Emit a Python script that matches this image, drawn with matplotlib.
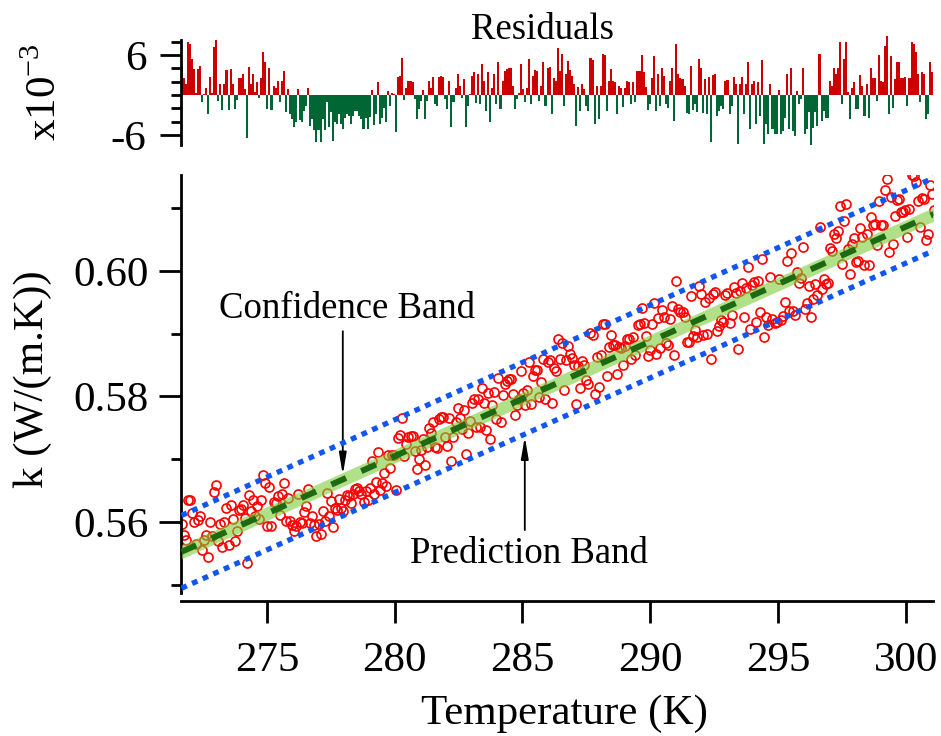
import numpy as np
import matplotlib.pyplot as plt

plt.rcParams['font.family'] = ['Liberation Serif', 'DejaVu Serif']
plt.rcParams['mathtext.fontset'] = 'custom'
plt.rcParams['mathtext.rm'] = 'Liberation Serif'

# measured temperatures (K)
temperature = [
    271.66, 271.74, 271.82, 271.90, 271.98, 272.06, 272.14, 272.22, 272.30, 272.38,
    272.46, 272.54, 272.62, 272.70, 272.78, 272.86, 272.94, 273.02, 273.10, 273.18,
    273.26, 273.34, 273.42, 273.50, 273.58, 273.66, 273.74, 273.82, 273.90, 273.98,
    274.06, 274.14, 274.22, 274.30, 274.38, 274.46, 274.54, 274.62, 274.70, 274.78,
    274.86, 274.94, 275.02, 275.10, 275.18, 275.26, 275.34, 275.42, 275.50, 275.58,
    275.66, 275.74, 275.82, 275.90, 275.98, 276.06, 276.14, 276.22, 276.30, 276.38,
    276.46, 276.54, 276.62, 276.70, 276.78, 276.86, 276.94, 277.02, 277.10, 277.18,
    277.26, 277.34, 277.42, 277.50, 277.58, 277.66, 277.74, 277.82, 277.90, 277.98,
    278.06, 278.14, 278.22, 278.30, 278.38, 278.46, 278.54, 278.62, 278.70, 278.78,
    278.86, 278.94, 279.02, 279.10, 279.18, 279.26, 279.34, 279.42, 279.50, 279.58,
    279.66, 279.74, 279.82, 279.90, 279.98, 280.06, 280.14, 280.22, 280.30, 280.38,
    280.46, 280.54, 280.62, 280.70, 280.78, 280.86, 280.94, 281.02, 281.10, 281.18,
    281.26, 281.34, 281.42, 281.50, 281.58, 281.66, 281.74, 281.82, 281.90, 281.98,
    282.06, 282.14, 282.22, 282.30, 282.38, 282.46, 282.54, 282.62, 282.70, 282.78,
    282.86, 282.94, 283.02, 283.10, 283.18, 283.26, 283.34, 283.42, 283.50, 283.58,
    283.66, 283.74, 283.82, 283.90, 283.98, 284.06, 284.14, 284.22, 284.30, 284.38,
    284.46, 284.54, 284.62, 284.70, 284.78, 284.86, 284.94, 285.02, 285.10, 285.18,
    285.26, 285.34, 285.42, 285.50, 285.58, 285.66, 285.74, 285.82, 285.90, 285.98,
    286.06, 286.14, 286.22, 286.30, 286.38, 286.46, 286.54, 286.62, 286.70, 286.78,
    286.86, 286.94, 287.02, 287.10, 287.18, 287.26, 287.34, 287.42, 287.50, 287.58,
    287.66, 287.74, 287.82, 287.90, 287.98, 288.06, 288.14, 288.22, 288.30, 288.38,
    288.46, 288.54, 288.62, 288.70, 288.78, 288.86, 288.94, 289.02, 289.10, 289.18,
    289.26, 289.34, 289.42, 289.50, 289.58, 289.66, 289.74, 289.82, 289.90, 289.98,
    290.06, 290.14, 290.22, 290.30, 290.38, 290.46, 290.54, 290.62, 290.70, 290.78,
    290.86, 290.94, 291.02, 291.10, 291.18, 291.26, 291.34, 291.42, 291.50, 291.58,
    291.66, 291.74, 291.82, 291.90, 291.98, 292.06, 292.14, 292.22, 292.30, 292.38,
    292.46, 292.54, 292.62, 292.70, 292.78, 292.86, 292.94, 293.02, 293.10, 293.18,
    293.26, 293.34, 293.42, 293.50, 293.58, 293.66, 293.74, 293.82, 293.90, 293.98,
    294.06, 294.14, 294.22, 294.30, 294.38, 294.46, 294.54, 294.62, 294.70, 294.78,
    294.86, 294.94, 295.02, 295.10, 295.18, 295.26, 295.34, 295.42, 295.50, 295.58,
    295.66, 295.74, 295.82, 295.90, 295.98, 296.06, 296.14, 296.22, 296.30, 296.38,
    296.46, 296.54, 296.62, 296.70, 296.78, 296.86, 296.94, 297.02, 297.10, 297.18,
    297.26, 297.34, 297.42, 297.50, 297.58, 297.66, 297.74, 297.82, 297.90, 297.98,
    298.06, 298.14, 298.22, 298.30, 298.38, 298.46, 298.54, 298.62, 298.70, 298.78,
    298.86, 298.94, 299.02, 299.10, 299.18, 299.26, 299.34, 299.42, 299.50, 299.58,
    299.66, 299.74, 299.82, 299.90, 299.98, 300.06, 300.14, 300.22, 300.30, 300.38,
    300.46, 300.54, 300.62, 300.70, 300.78, 300.86, 300.94, 301.02, 301.10,
]

# residuals of the linear fit (x1e-3 W/(m.K))
residual_e3 = [
    4.4, 2.6, 1.6, 7.9, 7.6, 5.4, 3.9, 0.3, 3.9, 4.4,
    -1.1, 0.2, 1.0, -2.8, 2.7, 0.3, 7.2, 8.2, -0.9, 1.6,
    -2.2, 1.7, 3.7, -2.2, 3.9, 1.6, -2.1, -0.7, 2.6, 2.6,
    3.1, 0.9, -6.4, 4.2, 1.6, 3.1, 0.4, 1.9, -0.4, 2.6,
    6.4, 5.0, -2.1, 4.1, -2.3, 1.4, 1.1, 2.1, -1.1, 2.1,
    3.6, -2.6, 0.9, -2.8, -3.6, -4.8, -4.0, 0.9, -3.7, -4.0,
    -2.4, -1.6, 1.0, -4.6, -3.6, -5.3, -7.1, -5.3, -7.1, -3.6,
    -5.3, -1.0,
    -4.8, -2.6, -6.9, -4.0, -4.4, -2.8, -4.4, -5.1, -3.4, -2.8,
    -3.1, -4.3, -3.1, -2.4, -2.4, -3.1, -3.6, -5.1, -3.4, -5.1,
    -3.3, 0.8, -4.5, -2.8, 1.9, -4.4, -3.4, -1.9, -4.1, 0.6,
    -1.6, 0.3, 0.2, -5.5, 2.7, 2.9, 5.6, -0.7, 1.1, 2.1,
    2.1, 1.9, -0.6, -3.6, -2.1, -0.9, 0.8, -3.6, -0.9, 2.1,
    1.1, 2.7, -1.4, -1.7, 2.7, 2.9, 2.7, -0.6, -2.1, 2.1,
    -4.8, -1.1, 1.1, 3.1, 1.4, -0.5, 2.4, -4.8, -1.6, 0.2,
    2.9, 3.4, -1.2,
    3.1, -1.4, 4.6, 2.1, -2.4, 3.4, -4.1, 1.1, 3.1, -1.4,
    5.0, -2.1, 2.1, 3.6, 3.9, 4.1, 4.0, 1.4, -2.1, -0.6,
    0.3, 4.6, 0.9, -1.1, 1.0, 5.4, -1.4, 2.9, 3.7, 3.6,
    -0.9, 1.4, 4.9, -1.6, 4.1, 4.2, -2.8, 2.6, 2.1, 7.0,
    3.6, 6.1, -1.6, 3.1, 5.1, 3.7, 2.9, 1.7, -4.6, 1.2,
    -2.4, 1.7, 0.9, -1.6, -2.4, 5.6, 5.2, -4.4, 1.4, -3.6,
    1.4, 6.1, 6.0, -2.4, 2.1, 3.9, 2.1, 1.9, -2.8, 1.4,
    1.1, -1.8, 1.0, 2.1, 1.9,
    -1.4, 1.9, -1.1, 3.6, 3.6, 6.0, 3.4, 1.2, -2.2, -1.4,
    2.6, 5.8, -2.4, 3.2, -1.7, 4.1, 2.9, -1.4, -1.9, 2.1,
    4.1, -3.9, 7.7, 3.1, 2.6, 2.4, 1.4, -2.7, -2.8, 4.4,
    -2.2, -1.4, -2.6, 5.4, 4.0, -2.7, 2.4, -2.8, 2.7, -7.1,
    3.0, 3.2, -3.1, -2.4, -1.7, -2.1, 2.1, 2.2, -2.8, -1.6,
    2.7, 1.6, -7.4, 1.7, 2.7, -2.8, 1.7, 4.9, -5.1, 1.7,
    2.1, -4.4, 1.9, -3.1, 5.2, -7.4, -4.4, -5.9, 1.6, -5.1,
    -5.9, -5.9, 0.8, -5.9, -5.4,
    -3.4, 3.1, -5.1, 4.0, -5.4, -6.1, 0.6, -1.4, -0.6, 4.1,
    -5.9, -5.1, -2.6, -7.6, -4.9, -2.6, -4.6, 6.2, -3.9, -2.4,
    -3.4, -3.4, 2.1, 1.4, 4.0, 3.2, 4.1, 8.0, -1.4, 5.4,
    7.9, 0.5, -3.6, 1.1, 1.9, -2.1, -2.1, 3.0, 1.4, -3.1,
    1.6, -3.4, 4.0, 2.6, 2.6, -0.9, 6.0, 2.1, 1.9, 7.4,
    8.9, -2.8, 5.8, -1.9, 2.4, 4.9, 4.9, 2.6, 2.6, 2.7,
    -1.7, 2.6, 7.9, 7.6, 6.4, 3.2, -1.1, 3.4, 3.2, -3.6,
    -2.8, 4.9, 3.4, 0.6,
]

# linear fit k = a + b*T and band half widths
fit_intercept = 0.05845
fit_slope = 0.0018287
conf_half = 0.0011
pred_half = 0.0058

T = np.array(temperature)
res = np.array(residual_e3)
fit = fit_intercept + fit_slope * T
k = fit + res * 1e-3

W, H = 941.0, 736.0
fig = plt.figure(figsize=(W / 100, H / 100), dpi=100)
ax = fig.add_axes([181 / W, 1 - 601 / H, 752 / W, 426 / H])
axr = fig.add_axes([181 / W, 1 - 145 / H, 752 / W, 110 / H])

xlim = (271.64, 301.06)

# main panel
ax.plot(T, k, ls='none', marker='o', ms=6.5, mfc='none', mec='#ff0000', mew=1.2, zorder=2)
ax.fill_between(T, fit - conf_half, fit + conf_half, color='#7ccd3a', alpha=0.6, lw=0, zorder=3)
ax.plot(T, fit, color='#1d6a12', lw=4.3, dashes=(2.7, 2.8), zorder=4)
for sgn in (1, -1):
    ax.plot(T, fit + sgn * pred_half, color='#1256f2', lw=3.8, dashes=(1.1, 1.1), zorder=5)

ax.set_xlim(*xlim)
ax.set_ylim(0.5474, 0.6153)
ax.set_xticks([275, 280, 285, 290, 295, 300])
ax.set_yticks([0.56, 0.58, 0.60])
ax.set_yticklabels(['0.56', '0.58', '0.60'])
ax.set_yticks([0.55, 0.57, 0.59, 0.61], minor=True)
ax.tick_params(axis='x', which='major', direction='out', length=16, width=2, labelsize=31, pad=13)
ax.tick_params(axis='y', which='major', direction='out', length=16, width=2, labelsize=31, pad=7)
ax.tick_params(axis='y', which='minor', direction='out', length=7.5, width=2)
for s in ['top', 'right']:
    ax.spines[s].set_visible(False)
ax.spines['left'].set_linewidth(2)
ax.spines['bottom'].set_linewidth(2)
ax.spines['left'].set_bounds(0.5486, 0.6153)

arrow = dict(arrowstyle='-|>,head_length=1.3,head_width=0.22',
             color='black', lw=1.3, shrinkA=0, shrinkB=0)
ax.annotate('', xy=(277.97, 0.5675), xytext=(277.97, 0.5904), arrowprops=arrow)
ax.text(278.13, 0.5940, 'Confidence Band', ha='center', va='center', size=26.5)
ax.annotate('', xy=(285.09, 0.5736), xytext=(285.09, 0.5587), arrowprops=arrow)
ax.text(285.25, 0.5549, 'Prediction Band', ha='center', va='center', size=26.5)

# residual panel
colors = np.where(res >= 0, '#cc0000', '#006633')
axr.bar(T, res, width=0.08, color=colors, lw=0)
axr.set_xlim(*xlim)
axr.set_ylim(-7.5, 9.0)
axr.set_xticks([])
axr.set_yticks([-6, 6])
axr.set_yticklabels(['-6', '6'])
axr.set_yticks([-4, -2, 0, 2, 4, 8], minor=True)
axr.tick_params(axis='y', which='major', direction='out', length=15, width=2, labelsize=31, pad=10)
axr.tick_params(axis='y', which='minor', direction='out', length=7.5, width=2)
for s in ['top', 'right', 'bottom']:
    axr.spines[s].set_visible(False)
axr.spines['left'].set_linewidth(2)
axr.spines['left'].set_bounds(-7.5, 8.25)
axr.patch.set_visible(False)

fig.text(543 / W, 1 - 30 / H, 'Residuals', ha='center', va='center', size=26.5)
fig.text(45 / W, 1 - 92 / H, r'x10$^{-3}$', rotation=90, ha='center', va='center', size=31)
fig.text(33 / W, 1 - 379 / H, 'k (W/(m.K))', rotation=90, ha='center', va='center', size=31)
fig.text(564 / W, 1 - 714 / H, 'Temperature (K)', ha='center', va='center', size=31)

fig.savefig('out.png', dpi=100)
